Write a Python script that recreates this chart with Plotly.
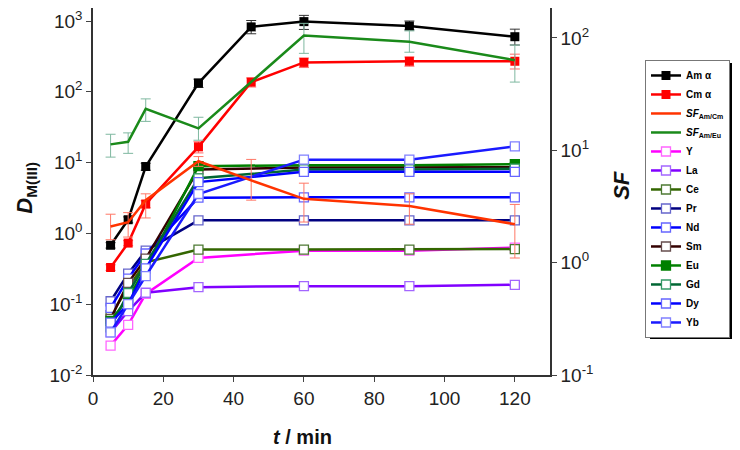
import plotly.graph_objects as go

FONT = "Liberation Sans, Arial, sans-serif"

# contact time (min)
t_all = [5, 10, 15, 30, 45, 60, 90, 120]
t_eu_sf = [5, 10, 15, 30, 60, 90, 120]
t_ln = [5, 10, 15, 30, 60, 90, 120]

# D values, left axis
d_am = [0.68, 1.56, 8.8, 133, 826, 980, 850, 600]
d_am_up = [0.06, 0.15, 1.0, 18, 190, 220, 150, 167]
d_am_dn = [0.06, 0.15, 1.0, 18, 166, 220, 100, 142]

d_cm = [0.33, 0.73, 2.6, 16.7, 137, 260, 270, 270]
d_cm_up = [0.03, 0.06, 0.3, 3, 20, 40, 40, 70]
d_cm_dn = [0.03, 0.06, 0.3, 3, 20, 40, 40, 60]

# separation factors, right axis
sf_amcm = [2.1, 2.29, 3.6, 8.0, 5.4, 3.7, 3.2, 2.2]
sf_amcm_up = [0.6, 0.5, 0.5, 0.8, 2.9, 1.4, 0.9, 1.1]
sf_amcm_dn = [0.5, 0.6, 1.1, 0.8, 1.8, 1.4, 1.0, 1.1]

sf_ameu = [11.3, 11.9, 23.4, 15.7, 105, 92.7, 63.5]
sf_ameu_up = [2.6, 2.4, 5.3, 4.0, 30, 23, 23]
sf_ameu_dn = [2.6, 2.5, 5.3, 3.4, 32, 18, 23]

# lanthanides + Y
d_y = [0.026, 0.051, 0.14, 0.45, 0.57, 0.57, 0.63]
d_la = [0.04, 0.08, 0.145, 0.174, 0.18, 0.18, 0.188]
d_ce = [0.07, 0.17, 0.39, 0.59, 0.59, 0.59, 0.6]
d_pr = [0.11, 0.27, 0.57, 1.53, 1.53, 1.53, 1.53]
d_nd = [0.089, 0.23, 0.52, 3.2, 3.23, 3.23, 3.23]
d_sm = [0.062, 0.2, 0.44, 8.0, 8.5, 8.5, 8.6]
d_eu = [0.058, 0.122, 0.32, 8.9, 9.2, 9.2, 9.5]
d_gd = [0.047, 0.144, 0.37, 6.0, 8.0, 8.0, 8.2]
d_dy = [0.055, 0.1, 0.32, 5.3, 7.4, 7.4, 7.4]
d_yb = [0.04, 0.1, 0.25, 3.6, 11, 11, 17]

ln_names = ["Y", "La", "Ce", "Pr", "Nd", "Sm", "Eu", "Gd", "Dy", "Yb"]
ln_values = [d_y, d_la, d_ce, d_pr, d_nd, d_sm, d_eu, d_gd, d_dy, d_yb]
ln_colors = ["#ff00ff", "#8000ff", "#336600", "#000080", "#0000ff",
             "#330000", "#008000", "#006633", "#0000ff", "#1a1aff"]
ln_edges = ["#ff66ff", "#a366ff", "#4d7a33", "#6666cc", "#6666ff",
            "#664d4d", "#008000", "#339966", "#6666ff", "#8080ff"]

left_ticks = [1e-2, 1e-1, 1, 10, 100, 1000]
left_labels = ["10<sup>-2</sup>", "10<sup>-1</sup>", "10<sup>0</sup>",
               "10<sup>1</sup>", "10<sup>2</sup>", "10<sup>3</sup>"]
right_ticks = [1e-1, 1, 10, 100]
right_labels = ["10<sup>-1</sup>", "10<sup>0</sup>", "10<sup>1</sup>", "10<sup>2</sup>"]

fig = go.Figure()

fig.add_trace(go.Scatter(
    x=t_all, y=d_am, name="<b>Am α</b>", mode="lines+markers",
    line=dict(color="#000000", width=2.5),
    marker=dict(symbol="square", size=9, color="#000000"),
    error_y=dict(type="data", array=d_am_up, arrayminus=d_am_dn,
                 color="#333333", thickness=1, width=5),
))
fig.add_trace(go.Scatter(
    x=t_all, y=d_cm, name="<b>Cm α</b>", mode="lines+markers",
    line=dict(color="#ff0000", width=2.5),
    marker=dict(symbol="square", size=9, color="#ff0000"),
    error_y=dict(type="data", array=d_cm_up, arrayminus=d_cm_dn,
                 color="#ff6666", thickness=1, width=5),
))
fig.add_trace(go.Scatter(
    x=t_all, y=sf_amcm, name="<b><i>SF</i><sub>Am/Cm</sub></b>", mode="lines",
    yaxis="y2", line=dict(color="#ff3300", width=2.5),
    error_y=dict(type="data", array=sf_amcm_up, arrayminus=sf_amcm_dn,
                 color="#ff7766", thickness=1, width=5),
))
fig.add_trace(go.Scatter(
    x=t_eu_sf, y=sf_ameu, name="<b><i>SF</i><sub>Am/Eu</sub></b>", mode="lines",
    yaxis="y2", line=dict(color="#1a8a1a", width=2.5),
    error_y=dict(type="data", array=sf_ameu_up, arrayminus=sf_ameu_dn,
                 color="#7fb8a0", thickness=1, width=5),
))

for name, vals, col, edge in zip(ln_names, ln_values, ln_colors, ln_edges):
    filled = name == "Eu"
    fig.add_trace(go.Scatter(
        x=t_ln, y=vals, name=f"<b>{name}</b>", mode="lines+markers",
        line=dict(color=col, width=2.5),
        marker=dict(symbol="square", size=9,
                    color=col if filled else "white",
                    line=dict(color=edge, width=1.3)),
    ))

axis_line = "#333333"
tick_font = dict(family=FONT, size=19, color="#222222")

# the page body adds an 8px offset, so the figure is a little smaller
fig.update_layout(
    width=732, height=442,
    margin=dict(l=85, r=190, t=0, b=75, autoexpand=False),
    paper_bgcolor="white", plot_bgcolor="white",
    font=dict(family=FONT, color="#111111"),
    showlegend=True,
    legend=dict(
        xref="container", yref="container",
        x=0.8702, xanchor="left", y=0.8824, yanchor="top",
        maxheight=340,
        bgcolor="white", bordercolor="#777777", borderwidth=1,
        font=dict(family=FONT, size=10, color="#000000"),
        tracegroupgap=0, itemwidth=30,
    ),
    xaxis=dict(
        range=[0, 130], tick0=0, dtick=20, ticks="outside", ticklen=5,
        showline=True, linecolor=axis_line, linewidth=1.5, mirror=True,
        showgrid=False, zeroline=False, tickfont=tick_font,
    ),
    yaxis=dict(
        type="log", range=[-2, 3.1836], tickvals=left_ticks, ticktext=left_labels,
        ticks="outside", ticklen=5, showline=True, linecolor=axis_line,
        linewidth=1.5, showgrid=False, zeroline=False, tickfont=tick_font,
        ticklabeloverflow="allow",
    ),
    yaxis2=dict(
        type="log", range=[-1, 2.267], tickvals=right_ticks, ticktext=right_labels,
        overlaying="y", side="right", ticks="outside", ticklen=5,
        showline=True, linecolor=axis_line, linewidth=1.5, showgrid=False,
        zeroline=False, tickfont=tick_font, ticklabeloverflow="allow",
    ),
    annotations=[
        dict(text="<b><i>D</i><sub>M(III)</sub></b>", xref="paper", yref="paper",
             x=-0.147, y=0.51, xanchor="center", yanchor="middle",
             textangle=-90, showarrow=False,
             font=dict(family=FONT, size=22, color="#111111")),
        dict(text="<b><i>SF</i></b>", xref="paper", yref="paper",
             x=1.1575, y=0.518, xanchor="center", yanchor="middle",
             textangle=-90, showarrow=False,
             font=dict(family=FONT, size=22, color="#111111")),
        dict(text="<b><i>t</i> / min</b>", xref="paper", yref="paper",
             x=0.4595, y=-0.169, xanchor="center", yanchor="middle",
             showarrow=False,
             font=dict(family=FONT, size=20, color="#111111")),
    ],
    shapes=[
        dict(type="rect", xref="paper", yref="paper", layer="above",
             x0=1.2188, x1=1.4026, y0=0.0981, y1=0.850,
             fillcolor="black", line=dict(width=0)),
    ],
)

fig.write_html("out.html")
